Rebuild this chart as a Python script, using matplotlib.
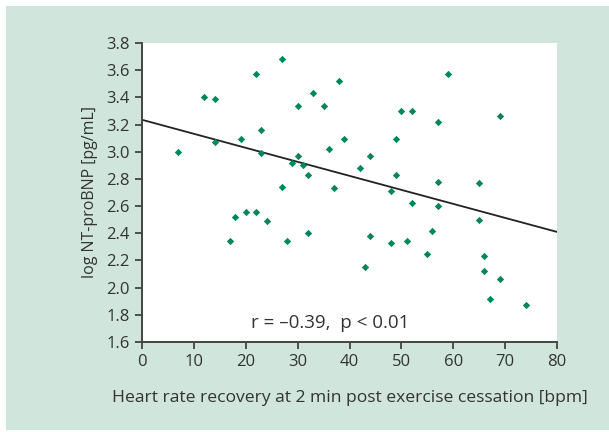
import matplotlib
matplotlib.use("Agg")
import matplotlib.pyplot as plt
from matplotlib.patches import Rectangle

# heart rate recovery [bpm] vs log NT-proBNP [pg/mL]
hrr = [7, 12, 14, 14, 17, 18, 19, 20, 22, 22, 23, 23, 24, 27, 27, 28, 29, 30,
       30, 31, 32, 32, 33, 35, 36, 37, 38, 39, 42, 43, 44, 44, 48, 48, 49, 49,
       50, 51, 52, 52, 55, 56, 57, 57, 57, 59, 65, 65, 66, 66, 67, 69, 69, 74]
log_bnp = [3.00, 3.40, 3.39, 3.07, 2.34, 2.52, 3.09, 2.56, 3.57, 2.56, 3.16,
           2.99, 2.49, 3.68, 2.74, 2.34, 2.92, 3.34, 2.97, 2.90, 2.83, 2.40,
           3.43, 3.34, 3.02, 2.73, 3.52, 3.09, 2.88, 2.15, 2.97, 2.38, 2.71,
           2.33, 3.09, 2.83, 3.30, 2.34, 3.30, 2.62, 2.25, 2.42, 3.22, 2.78,
           2.60, 3.57, 2.77, 2.50, 2.23, 2.12, 1.92, 3.26, 2.06, 1.87]

# regression line
fit_x = [0, 80]
fit_y = [3.235, 2.41]

xticks = list(range(0, 81, 10))
yticks = [1.6, 1.8, 2.0, 2.2, 2.4, 2.6, 2.8, 3.0, 3.2, 3.4, 3.6, 3.8]

green_bg = '#d0e5dc'
dot = '#00875a'
txt = '#333333'

plt.rcParams['font.family'] = ['Open Sans', 'DejaVu Sans']

fig = plt.figure(figsize=(6.09, 4.32), dpi=100, facecolor='white')
fig.patches.append(Rectangle((6 / 609, 2 / 432), 603 / 609, 424 / 432,
                             transform=fig.transFigure, facecolor=green_bg,
                             edgecolor='none', zorder=-10))

ax = fig.add_axes([142 / 609, 90 / 432, 415 / 609, 299 / 432])
ax.set_facecolor('white')

ax.plot(fit_x, fit_y, color='#222222', lw=1.3, zorder=2)
ax.scatter(hrr, log_bnp, marker='D', s=14, color=dot, zorder=3, linewidths=0)

ax.set_xlim(0, 80)
ax.set_ylim(1.6, 3.8)
ax.set_xticks(xticks)
ax.set_yticks(yticks)
ax.set_yticklabels([f'{v:.1f}' for v in yticks])

for s in ['top', 'right']:
    ax.spines[s].set_visible(False)
for s in ['left', 'bottom']:
    ax.spines[s].set_color('#444444')
    ax.spines[s].set_linewidth(1.4)
ax.tick_params(direction='out', length=5, width=1.3, color='#444444',
               labelsize=12, labelcolor=txt, pad=4)

ax.set_xlabel('Heart rate recovery at 2 min post exercise cessation [bpm]',
              fontsize=12.6, color=txt, labelpad=14)
ax.set_ylabel('log NT-proBNP [pg/mL]', fontsize=11.5, color=txt, labelpad=6)

ax.text(36.2, 1.74, 'r = \u20130.39,  p < 0.01', fontsize=13.5, color=txt,
        ha='center', va='center')

fig.savefig('out.png', dpi=100, facecolor=fig.get_facecolor())
